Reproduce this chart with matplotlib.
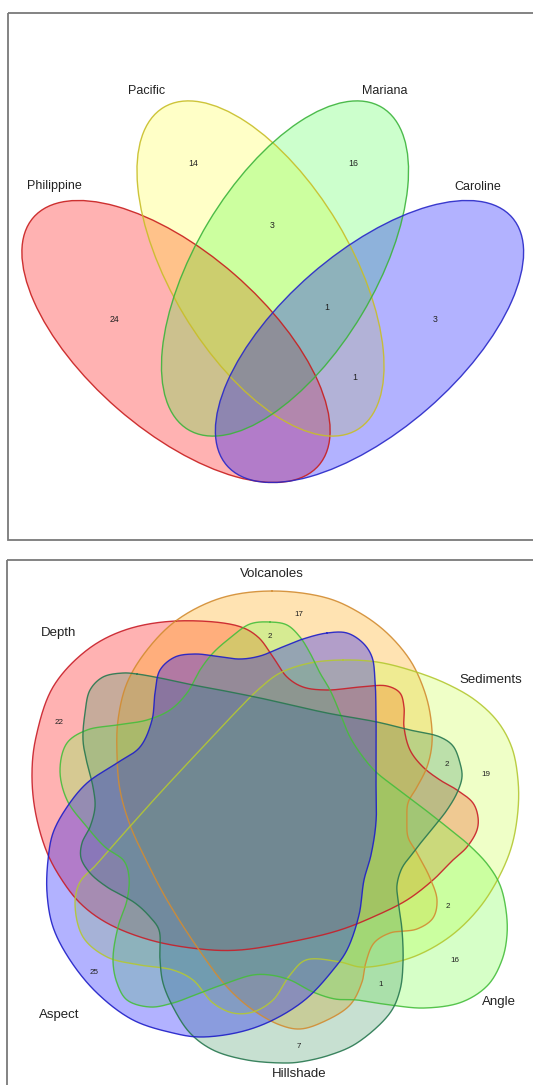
import numpy as np
import matplotlib
matplotlib.use("Agg")
import matplotlib.pyplot as plt
from matplotlib.patches import Ellipse, Polygon, Rectangle

plt.rcParams['font.family'] = ['Liberation Sans', 'DejaVu Sans']

# ---------------- data ----------------
plate_sets = ["Philippine", "Pacific", "Mariana", "Caroline"]
plate_counts = [24, 14, 16, 3, 3, 1, 1]

terrain_sets = ["Depth", "Volcanoles", "Sediments", "Angle", "Hillshade", "Aspect"]
terrain_counts = [22, 17, 2, 2, 19, 2, 16, 1, 7, 25]

# ---------------- layout (pixel frame of the figure) ----------------
W, H = 533, 1085

# four-set ellipses: centre, semi-major, semi-minor, angle
plate_ellipses = [
    ((176.0, 341.5), 189, 89, 41),
    ((260.5, 268.5), 188, 89.5, 59),
    ((285.0, 268.5), 188, 89.5, -59),
    ((369.5, 341.5), 189, 89, -41),
]
plate_fill = ['#FF0000', '#FFFF00', '#00FF00', '#0000FF']
plate_alpha = [0.30, 0.22, 0.20, 0.30]
plate_edge = ['#C81E1E', '#C8BE28', '#3CB43C', '#2828C8']
plate_label_xy = [(54, 186), (147, 91), (385, 91), (478, 187)]
plate_count_xy = [(114, 320), (193, 164), (353, 164), (272, 225),
                  (435, 320), (327, 308), (355, 377)]

# six-set outlines (control points of closed smooth curves)
terrain_outlines = [
    # Depth
    [(176, 621), (238, 626), (258, 637), (273, 657), (287, 677), (303, 687), (327, 690),
     (360, 687), (387, 686), (400, 693), (404, 707), (404, 727), (410, 750), (423, 767),
     (440, 780), (457, 790), (473, 803), (478, 817), (477, 830), (467, 847), (453, 860),
     (433, 880), (407, 900), (373, 917), (340, 930), (300, 940), (240, 950), (200, 949),
     (150, 940), (107, 923), (80, 903), (60, 877), (46, 850), (35, 810), (32, 772),
     (36, 737), (53, 687), (87, 650), (125, 630)],
    # Volcanoles
    [(272, 591), (327, 598), (360, 613), (387, 633), (410, 660), (423, 687), (430, 713),
     (432, 743), (427, 767), (417, 787), (408, 803), (407, 820), (408, 837), (417, 853),
     (430, 878), (437, 900), (433, 918), (417, 929), (390, 933), (374, 943), (366, 962),
     (362, 982), (350, 1005), (323, 1022), (300, 1029), (280, 1025), (253, 1010),
     (227, 987), (197, 947), (167, 900), (147, 862), (130, 825), (120, 790), (117, 755),
     (118, 720), (127, 683), (147, 650), (177, 620), (221, 598)],
    # Sediments
    [(343, 660), (377, 662), (410, 670), (445, 683), (475, 700), (498, 722), (512, 748),
     (518, 780), (518, 810), (512, 845), (500, 875), (480, 907), (452, 935), (418, 955),
     (383, 965), (360, 967), (340, 962), (306, 960), (290, 975), (273, 1000), (253, 1012),
     (233, 1013), (213, 1003), (193, 980), (173, 970), (140, 965), (107, 957), (83, 937),
     (75, 903), (80, 882), (95, 866), (125, 832), (160, 793), (200, 750), (230, 718),
     (260, 688), (280, 673), (310, 663)],
    # Angle
    [(270, 622), (287, 625), (300, 637), (310, 653), (320, 673), (330, 690), (340, 713),
     (350, 737), (363, 757), (376, 772), (395, 787), (415, 802), (447, 827), (470, 846),
     (488, 865), (500, 885), (506, 910), (507, 935), (502, 960), (488, 985), (462, 1002),
     (425, 1008), (390, 1005), (357, 1000), (335, 999), (313, 992), (290, 980),
     (270, 975), (253, 975), (227, 983), (200, 993), (173, 1003), (150, 1007),
     (127, 1000), (117, 983), (113, 960), (118, 927), (127, 900), (129, 877), (124, 861),
     (105, 847), (87, 827), (67, 800), (60, 770), (67, 743), (87, 730), (117, 725),
     (147, 720), (170, 710), (187, 693), (200, 670), (213, 653), (230, 638), (250, 624)],
    # Hillshade
    [(137, 674), (160, 678), (193, 685), (220, 690), (260, 698), (327, 713), (377, 722),
     (410, 730), (440, 737), (453, 746), (460, 763), (462, 777), (457, 793), (447, 810),
     (437, 823), (423, 840), (413, 853), (402, 868), (397, 885), (398, 900), (402, 930),
     (403, 963), (400, 990), (390, 1013), (357, 1043), (330, 1055), (300, 1062),
     (283, 1063), (247, 1060), (213, 1050), (190, 1033), (173, 1007), (163, 983),
     (160, 960), (159, 930), (150, 917), (135, 903), (107, 887), (90, 873), (81, 858),
     (82, 843), (90, 827), (95, 807), (93, 787), (87, 763), (83, 740), (85, 713),
     (90, 690), (103, 677), (123, 673)],
    # Aspect
    [(327, 633), (347, 633), (363, 643), (372, 657), (375, 680), (376, 713), (376, 780),
     (376, 822), (371, 855), (364, 880), (359, 915), (347, 950), (333, 970), (306, 999),
     (273, 1020), (240, 1032), (200, 1037), (173, 1033), (133, 1020), (97, 993),
     (70, 960), (53, 927), (47, 893), (48, 860), (53, 833), (67, 807), (87, 783),
     (117, 763), (140, 747), (152, 720), (155, 693), (160, 670), (175, 657), (195, 654),
     (215, 656), (240, 659), (260, 656), (280, 648), (303, 639)],
]
terrain_fill = ['#FF0000', '#FFA500', '#CDFF48', '#7AFF48', '#469B69', '#0000FF']
terrain_alpha = [0.30, 0.30, 0.30, 0.30, 0.30, 0.30]
terrain_edge = ['#C81E28', '#D28C32', '#B4C832', '#46BE3C', '#287850', '#1E1EC8']
terrain_label_xy = [(59, 633), (272, 574), (491, 680), (499, 1002), (299, 1074), (59, 1015)]
terrain_count_xy = [(59, 723), (299, 614), (270, 636), (447, 764), (486, 774),
                    (448, 907), (455, 961), (381, 985), (299, 1047), (94, 973)]


def closed_curve(points, n=30):
    """Centripetal Catmull-Rom spline through the points, closed."""
    P = np.asarray(points, float)
    m = len(P)
    segs = []
    for i in range(m):
        p0, p1, p2, p3 = P[(i - 1) % m], P[i], P[(i + 1) % m], P[(i + 2) % m]
        t0 = 0.0
        t1 = t0 + np.linalg.norm(p1 - p0) ** 0.5
        t2 = t1 + np.linalg.norm(p2 - p1) ** 0.5
        t3 = t2 + np.linalg.norm(p3 - p2) ** 0.5
        t = np.linspace(t1, t2, n, endpoint=False)[:, None]
        a1 = (t1 - t) / (t1 - t0) * p0 + (t - t0) / (t1 - t0) * p1
        a2 = (t2 - t) / (t2 - t1) * p1 + (t - t1) / (t2 - t1) * p2
        a3 = (t3 - t) / (t3 - t2) * p2 + (t - t2) / (t3 - t2) * p3
        b1 = (t2 - t) / (t2 - t0) * a1 + (t - t0) / (t2 - t0) * a2
        b2 = (t3 - t) / (t3 - t1) * a2 + (t - t1) / (t3 - t1) * a3
        segs.append((t2 - t) / (t2 - t1) * b1 + (t - t1) / (t2 - t1) * b2)
    c = np.vstack(segs)
    return np.vstack([c, c[:1]])


fig = plt.figure(figsize=(W / 100, H / 100), dpi=100)
ax = fig.add_axes([0, 0, 1, 1])
ax.set_xlim(0, W)
ax.set_ylim(H, 0)
ax.axis('off')

# panel frames
for (x0, y0, w, h) in [(8, 13, 600, 527), (6.5, 560, 600, 600)]:
    ax.add_patch(Rectangle((x0, y0), w, h, fill=False, edgecolor='#7a7a7a',
                           linewidth=1.3, zorder=1))

# ---- four-set diagram ----
for (c, a, b, ang), fc, al in zip(plate_ellipses, plate_fill, plate_alpha):
    ax.add_patch(Ellipse(c, 2 * a, 2 * b, angle=ang, facecolor=fc, alpha=al,
                         edgecolor='none', zorder=2))
for (c, a, b, ang), ec in zip(plate_ellipses, plate_edge):
    ax.add_patch(Ellipse(c, 2 * a, 2 * b, angle=ang, facecolor='none',
                         edgecolor=ec, linewidth=1.0, alpha=0.9, zorder=3))
for name, (x, y) in zip(plate_sets, plate_label_xy):
    ax.text(x, y, name, ha='center', va='center', fontsize=9, color='#222222', zorder=4)
for v, (x, y) in zip(plate_counts, plate_count_xy):
    ax.text(x, y, str(v), ha='center', va='center', fontsize=6.3, color='#222222', zorder=4)

# ---- six-set diagram ----
curves = [closed_curve(p) for p in terrain_outlines]
for cv, fc, al in zip(curves, terrain_fill, terrain_alpha):
    ax.add_patch(Polygon(cv, closed=True, facecolor=fc, alpha=al,
                         edgecolor='none', zorder=2))
for cv, ec in zip(curves, terrain_edge):
    ax.plot(cv[:, 0], cv[:, 1], color=ec, linewidth=1.0, alpha=0.9, zorder=3)
for name, (x, y) in zip(terrain_sets, terrain_label_xy):
    ax.text(x, y, name, ha='center', va='center', fontsize=9.5, color='#222222', zorder=4)
for v, (x, y) in zip(terrain_counts, terrain_count_xy):
    ax.text(x, y, str(v), ha='center', va='center', fontsize=5.8, color='#222222', zorder=4)

fig.savefig('out.png', dpi=100)
